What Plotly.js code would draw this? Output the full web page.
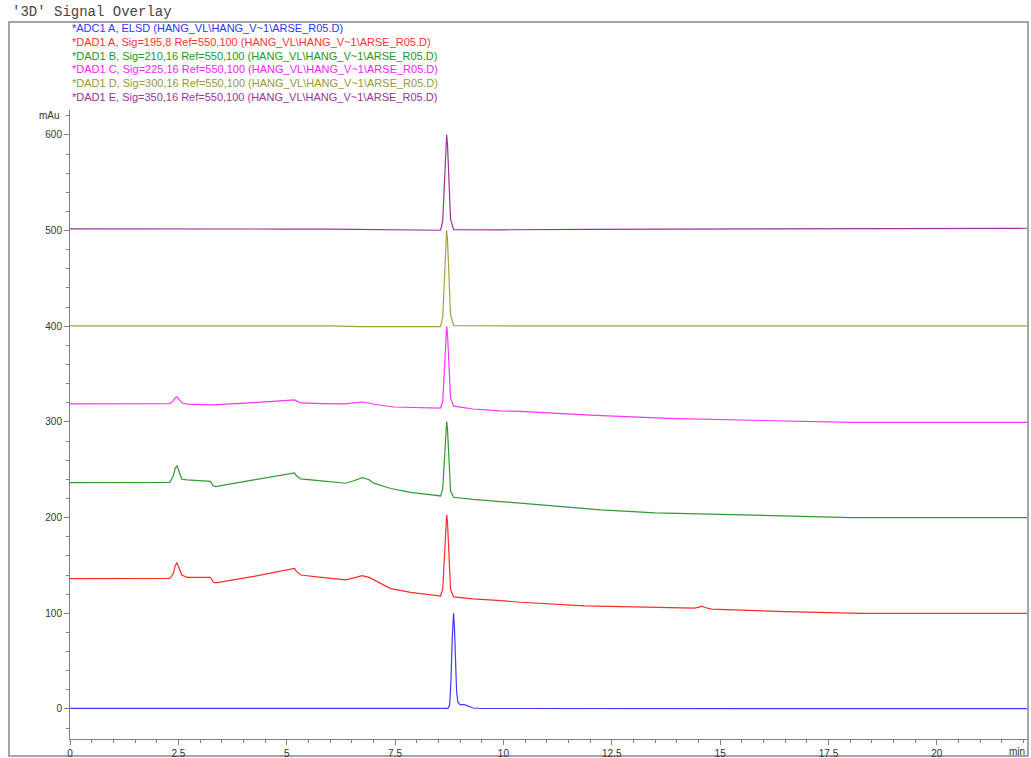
<!DOCTYPE html>
<html><head><meta charset="utf-8">
<script src="https://cdn.plot.ly/plotly-3.0.1.min.js"></script>
<style>html,body{margin:0;padding:0;background:#fff}#chart{width:1031px;height:758px}</style>
</head><body><div id="chart"></div>
<script>
const chartTitle = "'3D' Signal Overlay";
const seriesNames = [
  "*ADC1 A, ELSD (HANG_VL\\HANG_V~1\\ARSE_R05.D)",
  "*DAD1 A, Sig=195,8 Ref=550,100 (HANG_VL\\HANG_V~1\\ARSE_R05.D)",
  "*DAD1 B, Sig=210,16 Ref=550,100 (HANG_VL\\HANG_V~1\\ARSE_R05.D)",
  "*DAD1 C, Sig=225,16 Ref=550,100 (HANG_VL\\HANG_V~1\\ARSE_R05.D)",
  "*DAD1 D, Sig=300,16 Ref=550,100 (HANG_VL\\HANG_V~1\\ARSE_R05.D)",
  "*DAD1 E, Sig=350,16 Ref=550,100 (HANG_VL\\HANG_V~1\\ARSE_R05.D)"
];
const lineColors = ["#3c3cff", "#ff2a2a", "#339933", "#ff33ff", "#a8a040", "#993399"];
const textColors = ["#3333ff", "#ff3333", "#229922", "#ff22ff", "#999933", "#993399"];
const yUnit = "mAu";
const xUnit = "min";

// ADC1 A (ELSD)
const tADC = [0, 2, 4, 6, 8, 8.6, 8.72, 8.76, 8.79, 8.82, 8.85, 8.87, 8.89, 8.92, 8.95, 9.0, 9.1, 9.2, 9.3, 9.5, 11, 14, 17, 20, 22.1];
const yADC = [0.6, 0.5, 0.8, 0.6, 0.5, 0.5, 0.6, 4, 30, 75, 100, 85, 50, 18, 7, 4.5, 4.5, 3, 1, 0.5, 0.4, 0.4, 0.4, 0.4, 0.4];

// DAD1 A 195 nm
const tDADA = [0, 1.0, 2.0, 2.3, 2.38, 2.43, 2.47, 2.52, 2.58, 2.7, 3.0, 3.24, 3.30, 3.36, 4.24, 5.18, 5.22, 5.32, 5.8, 6.36, 6.55, 6.74, 6.9, 7.01, 7.4, 7.86, 8.3, 8.55, 8.60, 8.64, 8.67, 8.69, 8.71, 8.74, 8.78, 8.85, 9.3, 9.94, 10.4, 11.87, 13.0, 14.4, 14.52, 14.57, 14.65, 14.8, 16.49, 18.27, 20, 22.1];
const yDADA = [136.2, 136.3, 136.3, 136.5, 141, 150, 152.9, 147, 140, 137.6, 137.8, 137.6, 133, 131.8, 138.5, 146.9, 144, 140, 137.5, 135, 137, 139.3, 137.5, 134.8, 125.8, 121.9, 119.5, 118, 125, 165, 196, 202.8, 195, 160, 125, 117.2, 115, 113.2, 111.5, 107.7, 106.5, 105.3, 106.5, 107.5, 106, 104.3, 101.7, 100, 100, 100];

// DAD1 B 210 nm
const tDADB = [0, 1.0, 2.0, 2.3, 2.38, 2.43, 2.47, 2.52, 2.58, 2.7, 3.0, 3.24, 3.30, 3.36, 4.24, 5.18, 5.22, 5.32, 5.8, 6.36, 6.55, 6.74, 6.9, 7.01, 7.4, 7.86, 8.3, 8.55, 8.60, 8.64, 8.67, 8.69, 8.71, 8.74, 8.78, 8.85, 9.3, 9.94, 10.4, 12.25, 13.5, 15.33, 16.5, 18.03, 20, 22.1];
const yDADB = [236.5, 236.5, 236.2, 236.8, 243, 252, 254, 247, 240, 239.4, 238.5, 237.9, 233.5, 232.4, 239.4, 246.7, 244, 240.4, 238.3, 235.9, 238.5, 241.8, 239.5, 236, 230.4, 226.4, 224, 222.6, 230, 268, 296, 300.3, 292, 262, 228, 221.2, 219, 216.7, 215, 208, 205, 202.8, 201.5, 200, 200, 200];

// DAD1 C 225 nm
const tDADC = [0, 1, 2, 2.3, 2.38, 2.43, 2.47, 2.52, 2.58, 2.7, 3.0, 3.3, 4.24, 5.18, 5.22, 5.32, 5.8, 6.36, 6.55, 6.74, 6.9, 7.01, 7.47, 8.0, 8.55, 8.60, 8.64, 8.67, 8.69, 8.71, 8.74, 8.78, 8.85, 9.3, 9.94, 10.4, 12, 13.8, 16, 18.03, 20, 22.1];
const yDADC = [318.8, 318.8, 318.8, 319, 322, 325.5, 326, 323, 320, 318.6, 318.2, 317.8, 320.2, 323, 322, 319.8, 319.2, 318.8, 320, 320.8, 319.8, 318.5, 315.6, 315, 314.5, 321, 360, 393, 400, 392, 358, 325, 316.5, 313.5, 311.5, 311, 307, 303.8, 301.5, 299.6, 299.6, 299.6];

// DAD1 D 300 nm
const tDADD = [0, 2, 4, 6, 6.7, 7.5, 8.3, 8.55, 8.60, 8.64, 8.67, 8.69, 8.71, 8.74, 8.78, 8.85, 9.3, 11, 14, 17, 20, 22.1];
const yDADD = [400.3, 400.3, 400.3, 400.3, 399.5, 399.3, 399.3, 399.6, 410, 455, 492, 500.3, 490, 450, 412, 400.5, 400.3, 400.3, 400.3, 400.3, 400.3, 400.3];

// DAD1 E 350 nm
const tDADE = [0, 2, 4, 4.62, 5.0, 6.0, 7.0, 8.0, 8.5, 8.55, 8.60, 8.64, 8.67, 8.69, 8.71, 8.74, 8.78, 8.85, 9.3, 10, 12, 14, 16, 17.3, 20, 22.1];
const yDADE = [501.7, 501.7, 501.7, 502.3, 501.6, 501.4, 501.0, 500.6, 500.4, 500.3, 510, 555, 592, 600, 590, 552, 512, 501, 500.7, 500.8, 501.3, 501.6, 501.9, 502.4, 502.4, 502.4];

const xs = [tADC, tDADA, tDADB, tDADC, tDADD, tDADE];
const ys = [yADC, yDADA, yDADB, yDADC, yDADD, yDADE];

// geometry (pixels)
const W = 1031, H = 758;
const M = {l: 70, r: 4, t: 110, b: 19};
const pw = W - M.l - M.r, ph = H - M.t - M.b;
const px2x = p => (p - M.l) / pw;
const px2y = p => (H - M.b - p) / ph;

// draw order: top traces first so lower ones overlay similar to reference
const traces = [];
for (let i = xs.length - 1; i >= 0; i--) {
  traces.push({
    x: xs[i], y: ys[i], type: 'scatter', mode: 'lines', name: seriesNames[i],
    line: {color: lineColors[i], width: 1.2}, hoverinfo: 'skip'
  });
}

const annotations = [];
annotations.push({xref: 'paper', yref: 'paper', x: px2x(10), y: px2y(12), xanchor: 'left', yanchor: 'middle',
  text: chartTitle, showarrow: false, font: {family: 'Liberation Mono, DejaVu Sans Mono, monospace', size: 14, color: '#444'}});
seriesNames.forEach((n, i) => {
  annotations.push({xref: 'paper', yref: 'paper', x: px2x(70), y: px2y(28 + 13.8 * i), xanchor: 'left', yanchor: 'middle',
    text: n, showarrow: false, font: {family: 'Liberation Sans, Arial, sans-serif', size: 11, color: textColors[i]}});
});
annotations.push({xref: 'paper', yref: 'paper', x: px2x(62), y: px2y(115), xanchor: 'right', yanchor: 'middle',
  text: yUnit, showarrow: false, font: {family: 'Liberation Sans, Arial, sans-serif', size: 10, color: '#333'}});
annotations.push({xref: 'paper', yref: 'paper', x: px2x(1027), y: px2y(751), xanchor: 'right', yanchor: 'middle',
  text: xUnit, showarrow: false, font: {family: 'Liberation Sans, Arial, sans-serif', size: 10, color: '#333'}});

const layout = {
  width: W, height: H,
  margin: M,
  paper_bgcolor: '#fff', plot_bgcolor: '#fff',
  showlegend: false,
  font: {family: 'Liberation Sans, Arial, sans-serif', size: 10, color: '#333'},
  xaxis: {
    range: [0, 22.08], showline: true, linecolor: '#808080', linewidth: 1,
    ticks: 'outside', ticklen: 5, tickcolor: '#808080', tick0: 0, dtick: 2.5,
    showgrid: false, zeroline: false, tickfont: {size: 10, color: '#333'},
    minor: {dtick: 0.5, tick0: 0, ticks: 'outside', ticklen: 3, tickcolor: '#808080', showgrid: false}
  },
  yaxis: {
    range: [-31.4, 626], showline: true, linecolor: '#808080', linewidth: 1,
    ticks: 'outside', ticklen: 5, tickcolor: '#808080', tick0: 0, dtick: 100,
    showgrid: false, zeroline: false, tickfont: {size: 10, color: '#333'},
    minor: {dtick: 20, tick0: 0, ticks: 'outside', ticklen: 3, tickcolor: '#808080', showgrid: false}
  },
  shapes: [{
    type: 'rect', xref: 'paper', yref: 'paper',
    x0: px2x(9), x1: px2x(1028), y0: px2y(756), y1: px2y(22),
    line: {color: '#888', width: 1.5}, fillcolor: 'rgba(0,0,0,0)', layer: 'below'
  }],
  annotations: annotations
};

Plotly.newPlot('chart', traces, layout, {displayModeBar: false, staticPlot: true});
</script>
</body></html>
